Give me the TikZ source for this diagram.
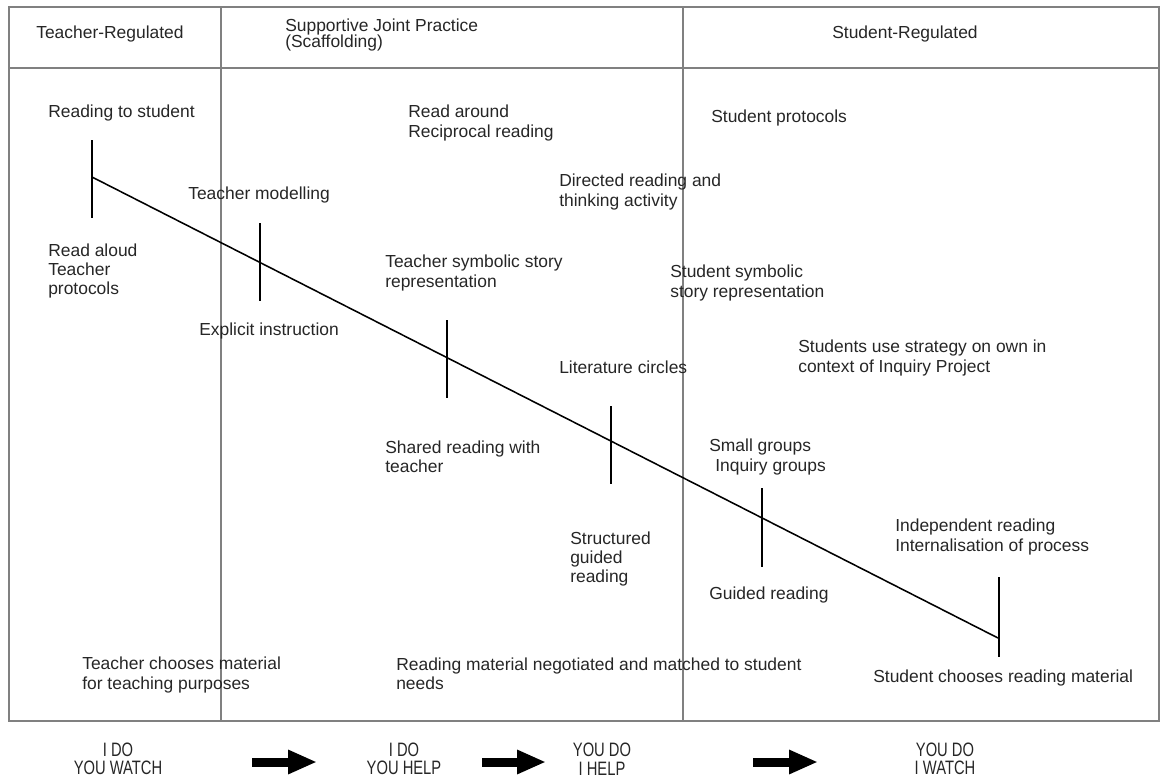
\documentclass[tikz,border=0pt]{standalone}
\usepackage{fontspec}
\setmainfont{Liberation Sans}
\usetikzlibrary{arrows.meta}
\usetikzlibrary{calc}
\usetikzlibrary{positioning}
\tikzset{
    phase frame/.style={
        draw=black!50,
        line width=0.9pt,
    },
    stage label/.style={
        anchor=west,
        align=left,
        inner sep=0,
        text=black!85,
        font=\fontsize{12.4}{13.8}\selectfont,
    },
    stage tick/.style={
        line width=1.1pt,
    },
    gradual line/.style={
        line width=1.1pt,
    },
    motto label/.style={
        align=center,
        inner sep=0,
        text=black!85,
        font=\fontsize{13.8}{13.2}\selectfont,
        xscale=0.76,
        transform shape,
    },
    block arrow/.style={
        line width=6.4pt,
        -{Triangle[length=7.2mm,width=5.6mm]},
    },
}

\begin{document}
\begin{tikzpicture}[x=0.025cm, y=-0.025cm]

    \useasboundingbox (0,0) rectangle (1160,783);

    % frame and the three phases
    \draw[phase frame] (9,7) rectangle (1159,721);
    \draw[phase frame] (9,68) -- (1159,68);
    \draw[phase frame] (221,7) -- (221,721);
    \draw[phase frame] (683,7) -- (683,721);

    \node[stage label] (hdrTeacher) at (36,34) {Teacher-Regulated};
    \node[stage label] (hdrJoint) at (285,35) {Supportive Joint Practice\\[-2.6pt](Scaffolding)};
    \node[stage label] (hdrStudent) at (832,34) {Student-Regulated};

    % the gradual release line
    \coordinate (start) at (92,177);
    \coordinate (finish) at (998,638);
    \draw[gradual line] (start) -- (finish);

    \foreach \x/\ya/\yb [count=\i] in {92/140/218, 260/223/301, 447/320/398, 611/406/484, 762/488/567, 999/577/657}
    {
        \coordinate (tt\i) at (\x,\ya);
        \coordinate (tb\i) at (\x,\yb);
        \draw[stage tick] (tt\i) -- (tb\i);
    }

    % labels above and below the line
    \node[stage label] (readTo) at (48,113) {Reading to student};
    \node[stage label] (readAloud) at (48,271) {Read aloud\\Teacher\\protocols};
    \node[stage label] (modelling) at (188,195) {Teacher modelling};
    \node[stage label] (explicit) at (199,331) {Explicit instruction};
    \node[stage label] (readAround) at (408,123) {Read around\\Reciprocal reading};
    \node[stage label] (directed) at (559,192) {Directed reading and\\thinking activity};
    \node[stage label] (tSymbolic) at (385,273) {Teacher symbolic story\\representation};
    \node[stage label] (shared) at (385,457) {Shared reading with\\teacher};
    \node[stage label] (literature) at (559,367) {Literature circles};
    \node[stage label] (structured) at (570,559) {Structured\\guided\\reading};
    \node[stage label] (sProtocols) at (711,118) {Student protocols};
    \node[stage label] (sSymbolic) at (670,283) {Student symbolic\\story representation};
    \node[stage label] (strategy) at (798,358) {Students use strategy on own in\\context of Inquiry Project};
    \node[stage label] (smallGroups) at (709,457) {Small groups\\\hspace*{0.35em}Inquiry groups};
    \node[stage label] (guided) at (709,595) {Guided reading};
    \node[stage label] (independent) at (895,537) {Independent reading\\Internalisation of process};

    % choice of material
    \node[stage label] (tChooses) at (82,675) {Teacher chooses material\\for teaching purposes};
    \node[stage label] (negotiated) at (396,674) {Reading material negotiated and matched to student\\needs};
    \node[stage label] (sChooses) at (873,678) {Student chooses reading material};

    % i do / you do
    \node[motto label] (iDoWatch) at (118,759) {I DO\\YOU WATCH};
    \node[motto label] (iDoHelp) at (404,759) {I DO\\YOU HELP};
    \node[motto label] (youDoHelp) at (602,759) {YOU DO\\I HELP};
    \node[motto label] (youDoWatch) at (945,759) {YOU DO\\I WATCH};

    \coordinate (a1) at (252,762);
    \coordinate (b1) at (317,762);
    \coordinate (a2) at (482,762);
    \coordinate (b2) at (546,762);
    \coordinate (a3) at (753,762);
    \coordinate (b3) at (818,762);
    \foreach \i in {1,2,3}
    {
        \draw[block arrow] (a\i) -- (b\i);
    }

\end{tikzpicture}
\end{document}
